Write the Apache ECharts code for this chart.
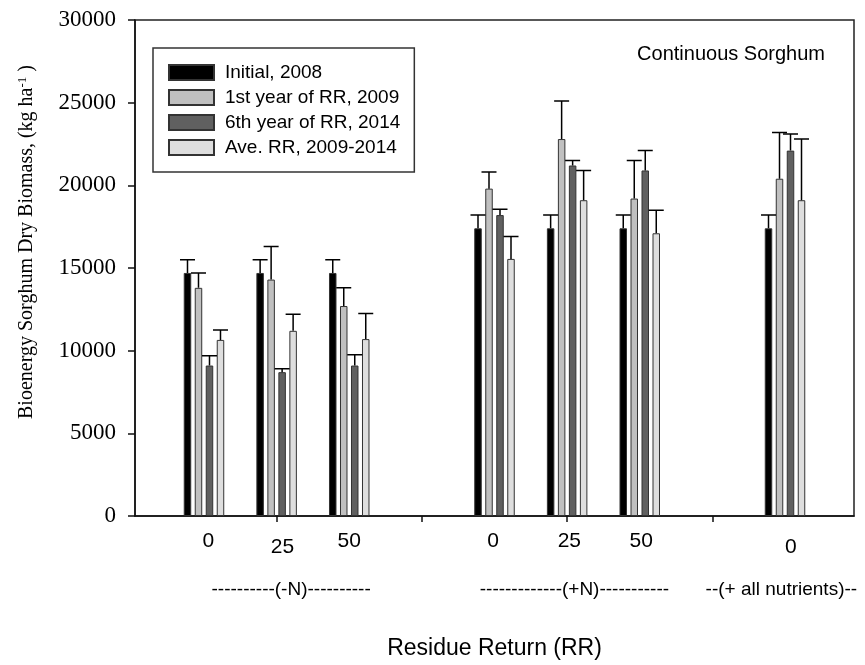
<!DOCTYPE html>
<html>
<head>
<meta charset="utf-8">
<script src="https://cdn.jsdelivr.net/npm/echarts@6/dist/echarts.min.js"></script>
<style>
  html, body { margin: 0; padding: 0; background: #fff; }
  #main-chart { width: 865px; height: 665px; }
</style>
</head>
<body>
<div id="main-chart"></div>
<script>
// group positions on the x scale and the RR labels under them
const positions = [0, 1, 2, 4, 5, 6, 8]
const rrLabels = ['0', '25', '50', '0', '25', '50', '0']
const rrLabelPos = [0.06, 1.08, 2.0, 3.98, 5.03, 6.02, 8.08]
const rrLow = [false, true, false, false, false, false, true]
const groupTicks = [1, 3, 5, 7]
const groupLabels = ['----------(-N)----------', '-------------(+N)-----------', '--(+ all nutrients)--']
const groupLabelPos = [1.2, 5.1, 7.95]

const seriesNames = ['Initial, 2008', '1st year of RR, 2009', '6th year of RR, 2014', 'Ave. RR, 2009-2014']
const seriesColors = ['#000000', '#c0c0c0', '#606060', '#dedede']

// biomass (kg/ha) and top of the error bar
const initial2008 = [14700, 14700, 14700, 17400, 17400, 17400, 17400]
const initial2008Top = [15500, 15500, 15500, 18200, 18200, 18200, 18200]
const year1 = [13800, 14300, 12700, 19800, 22800, 19200, 20400]
const year1Top = [14700, 16300, 13800, 20800, 25100, 21500, 23200]
const year6 = [9100, 8700, 9100, 18200, 21200, 20900, 22100]
const year6Top = [9700, 8900, 9750, 18550, 21500, 22100, 23100]
const aveRR = [10650, 11200, 10700, 15550, 19100, 17100, 19100]
const aveRRTop = [11250, 12200, 12250, 16900, 20900, 18500, 22800]

const values = [initial2008, year1, year6, aveRR]
const tops = [initial2008Top, year1Top, year6Top, aveRRTop]

const barW = 7.5
const barGapPx = 3.5
const barStep = barW + barGapPx
const capHalf = 7.5

const myChart = echarts.init(document.getElementById('main-chart'))

const barSeries = values.map((vals, k) => ({
    name: seriesNames[k],
    type: 'bar',
    barWidth: barW,
    barGap: (barGapPx / barW * 100) + '%',
    itemStyle: { color: seriesColors[k], borderColor: '#333', borderWidth: 1 },
    data: vals.map((v, i) => [positions[i], v]),
    z: 2
}))

// one error-bar series per bar series, shifted to its bar
const errSeries = values.map((vals, k) => ({
    type: 'custom',
    z: 3,
    silent: true,
    encode: { x: 0, y: [1, 2] },
    renderItem: function (params, api) {
        const base = api.coord([api.value(0), api.value(1)])
        const top = api.coord([api.value(0), api.value(2)])
        const cx = base[0] + (k - 1.5) * barStep
        return {
            type: 'polyline',
            shape: { points: [[cx, base[1]], [cx, top[1]], [cx - capHalf, top[1]], [cx + capHalf, top[1]]] },
            style: { stroke: '#000', lineWidth: 1.5, fill: null }
        }
    },
    data: vals.map((v, i) => [positions[i], v, tops[k][i]])
}))

const option = {
    animation: false,
    title: {
        text: 'Continuous Sorghum',
        right: 35,
        top: 39,
        textStyle: { fontFamily: 'Liberation Sans', fontSize: 20, fontWeight: 'normal', color: '#000' }
    },
    legend: {
        data: seriesNames,
        orient: 'vertical',
        left: 153,
        top: 48,
        padding: [15, 14, 15, 15],
        borderColor: '#333',
        borderWidth: 1.5,
        itemWidth: 45,
        itemHeight: 15,
        itemGap: 6,
        icon: 'rect',
        textStyle: { fontFamily: 'Liberation Sans', fontSize: 19, color: '#000', padding: [0, 0, 0, 6] }
    },
    grid: {
        left: 135,
        right: 11,
        top: 20,
        bottom: 141,
        show: true,
        borderColor: '#222',
        borderWidth: 1.5
    },
    xAxis: [{
        type: 'value',
        min: -0.95,
        max: 8.95,
        position: 'bottom',
        name: 'Residue Return (RR)',
        nameLocation: 'middle',
        nameGap: 121,
        nameTextStyle: { fontFamily: 'Liberation Sans', fontSize: 23, color: '#000' },
        axisLine: { onZero: false, lineStyle: { color: '#111', width: 1.5 } },
        axisTick: { customValues: groupTicks, length: 6, lineStyle: { color: '#111', width: 1.5 } },
        splitLine: { show: false },
        axisLabel: {
            customValues: rrLabelPos,
            margin: 15,
            fontFamily: 'Liberation Sans',
            fontSize: 21,
            color: '#000',
            formatter: function (val) {
                const i = rrLabelPos.indexOf(val)
                if (i < 0) return ''
                return rrLow[i] ? '{lo|' + rrLabels[i] + '}' : rrLabels[i]
            },
            rich: { lo: { fontFamily: 'Liberation Sans', fontSize: 21, color: '#000', padding: [6, 0, 0, 0] } }
        }
    }, {
        type: 'value',
        min: -0.95,
        max: 8.95,
        position: 'bottom',
        axisLine: { show: false, onZero: false },
        axisTick: { show: false },
        splitLine: { show: false },
        axisLabel: {
            customValues: groupLabelPos,
            margin: 64,
            fontFamily: 'Liberation Sans',
            fontSize: 19,
            color: '#000',
            formatter: function (val) {
                const i = groupLabelPos.indexOf(val)
                return i < 0 ? '' : groupLabels[i]
            }
        }
    }],
    yAxis: {
        type: 'value',
        min: 0,
        max: 30000,
        interval: 5000,
        axisLine: { show: true, onZero: false, lineStyle: { color: '#111', width: 1.5 } },
        axisTick: { show: true, length: 7, lineStyle: { color: '#111', width: 1.5 } },
        splitLine: { show: false },
        axisLabel: {
            margin: 19,
            fontFamily: 'Liberation Serif',
            fontSize: 23,
            color: '#000',
            formatter: v => String(v)
        }
    },
    graphic: [{
        type: 'text',
        x: 27,
        y: 242,
        rotation: Math.PI / 2,
        style: {
            text: 'Bioenergy Sorghum Dry Biomass, (kg ha{sup|-1} )',
            fontFamily: 'Liberation Serif',
            fontSize: 20,
            fill: '#000',
            align: 'center',
            verticalAlign: 'middle',
            rich: {
                sup: { fontFamily: 'Liberation Serif', fontSize: 13, fill: '#000', verticalAlign: 'top', padding: [0, 0, 9, 0] }
            }
        }
    }],
    series: barSeries.concat(errSeries)
}

myChart.setOption(option)
</script>
</body>
</html>
